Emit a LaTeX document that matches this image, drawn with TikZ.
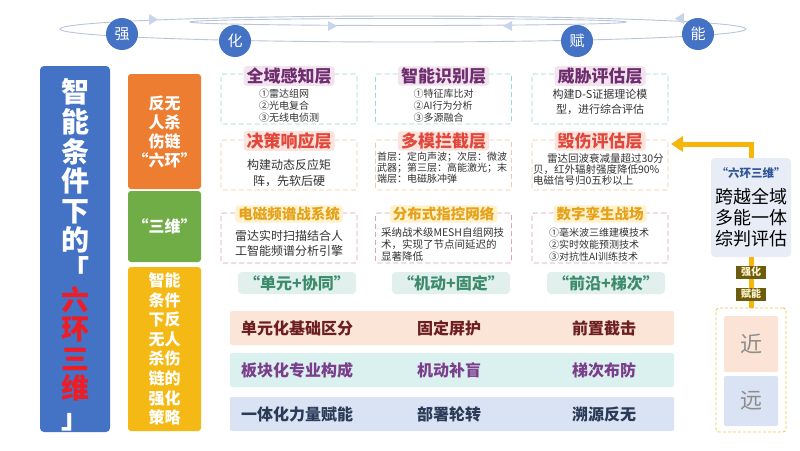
\documentclass[tikz,border=0pt]{standalone}
\usepackage{fontspec}
\setmainfont{Noto Sans CJK SC}
\usetikzlibrary{arrows.meta}
\newcommand\fz[2]{\fontsize{#1pt}{#2pt}\selectfont}
\definecolor{ringblue}{HTML}{4472C4}
\definecolor{ringline}{HTML}{BAC5D8}
\definecolor{ringtri}{HTML}{C8D4EA}
\definecolor{mainblue}{HTML}{4472C4}
\definecolor{titlered}{HTML}{EE1C25}
\definecolor{orangebox}{HTML}{ED7D31}
\definecolor{greenbox}{HTML}{70AD47}
\definecolor{yellowbox}{HTML}{F5B915}
\definecolor{cardAline}{HTML}{9ED5D8}
\definecolor{cardAbg}{HTML}{F3E3EE}
\definecolor{cardAtx}{HTML}{6E2E6E}
\definecolor{cardBline}{HTML}{F2C9A8}
\definecolor{cardBbg}{HTML}{FCE3DE}
\definecolor{cardBtx}{HTML}{E0483C}
\definecolor{cardCline}{HTML}{D9A3B8}
\definecolor{cardCbg}{HTML}{FFF2CC}
\definecolor{cardCtx}{HTML}{E5A11A}
\definecolor{bodytx}{HTML}{333333}
\definecolor{pillbg}{HTML}{E1F0EC}
\definecolor{pilltx}{HTML}{3D8B6D}
\definecolor{bandA}{HTML}{FBE5D6}
\definecolor{bandAtx}{HTML}{6D1F1F}
\definecolor{bandB}{HTML}{DAF1F0}
\definecolor{bandBtx}{HTML}{7A3E8A}
\definecolor{bandC}{HTML}{DAE3F3}
\definecolor{bandCtx}{HTML}{2B3A57}
\definecolor{gold}{HTML}{F5B50A}
\definecolor{goldash}{HTML}{F2C94C}
\definecolor{rbbg}{HTML}{E8ECF6}
\definecolor{rbtitle}{HTML}{2F5597}
\definecolor{tagbg}{HTML}{6E5C0E}
\definecolor{tagtx}{HTML}{FFF5CC}
\definecolor{nearbg}{HTML}{FBE4D6}
\definecolor{farbg}{HTML}{DAE3F3}
\definecolor{neartx}{HTML}{8C8C8C}
\begin{document}
\begin{tikzpicture}[x=1pt,y=-1pt,
  every node/.style={inner sep=0pt, outer sep=0pt},
  dot/.style={circle, fill=ringblue, minimum size=32pt, text=white, font=\fz{15}{15}},
  tri/.style={fill=ringtri},
  ring/.style={draw=ringline, line width=0.9pt},
  stripbox/.style={rounded corners=3pt, minimum width=73pt, text=white, align=center, font=\bfseries\fz{16}{19}},
  cardbox/.style={draw, dash pattern=on 5pt off 3pt, line width=0.9pt, rounded corners=2pt, minimum width=136pt, minimum height=50pt},
  cardtitle/.style={rounded corners=3pt, inner xsep=3pt, inner ysep=1.5pt, font=\bfseries\fz{17}{17}},
  body/.style={text=bodytx},
  pill/.style={fill=pillbg, rounded corners=4pt, minimum width=118pt, minimum height=22pt, text=pilltx, font=\bfseries\fz{16}{16}},
  band/.style={rounded corners=2pt, minimum width=444pt, minimum height=34pt},
  bandtext/.style={anchor=west, font=\bfseries\fz{16}{16}},
  goldline/.style={draw=gold, line width=5pt},
  gtag/.style={fill=tagbg, text=tagtx, minimum width=30pt, minimum height=13pt, font=\bfseries\fz{10}{10}},
  nf/.style={minimum width=54pt, text=neartx, font=\fz{22}{22}}
]
\useasboundingbox (0,0) rectangle (800,450);
\fill[white] (0,0) rectangle (800,450);

% ---- top rings ----
\draw[ring] (403,29) ellipse [x radius=343, y radius=13];
\draw[ring] (408,22) ellipse [x radius=218, y radius=3.5];
\fill[tri] (149,14) -- (158,19.5) -- (149,25) -- cycle;
\fill[tri] (328,21) -- (337,26) -- (328,31) -- cycle;
\fill[tri] (512,21) -- (503,26) -- (512,31) -- cycle;
\fill[tri] (684,13) -- (675,18.5) -- (684,24) -- cycle;
\node[dot] (q) at (122,34) {强};
\node[dot] (h) at (235,41) {化};
\node[dot] (f) at (577,41) {赋};
\node[dot] (n) at (698,34) {能};

% ---- left column ----
\node[fill=mainblue, rounded corners=4pt, minimum width=70pt, minimum height=366pt] (main) at (75,249) {};
\node[text=white, align=center, font=\bfseries\fz{28}{29.6}] (maintx) at (75,255)
  {智\\能\\条\\件\\下\\的\\「\\\textcolor{titlered}{六}\\\textcolor{titlered}{环}\\\textcolor{titlered}{三}\\\textcolor{titlered}{维}\\」};

\node[stripbox, fill=orangebox, minimum height=115pt] (ob) at (164.5,131.5) {反无\\人杀\\伤链\\“六环”};
\node[stripbox, fill=greenbox, minimum height=71pt] (gb) at (164.5,226.5) {“三维”};
\node[stripbox, fill=yellowbox, minimum height=164pt, font=\bfseries\fz{16}{19.6}] (yb) at (164.5,349) {智能\\条件\\下反\\无人\\杀伤\\链的\\强化\\策略};

% ---- cards row 1 ----
\node[cardbox, draw=cardAline] (a1) at (289,99) {};
\node[cardbox, draw=cardAline] (a2) at (443.5,99) {};
\node[cardbox, draw=cardAline] (a3) at (600,99) {};
\node[cardtitle, fill=cardAbg, text=cardAtx] (a1t) at (289,76) {全域感知层};
\node[cardtitle, fill=cardAbg, text=cardAtx] (a2t) at (443.5,76) {智能识别层};
\node[cardtitle, fill=cardAbg, text=cardAtx] (a3t) at (600,76) {威胁评估层};
\node[body, align=left, font=\fz{10}{12}] (a1b) at (289,106) {①雷达组网\\②光电复合\\③无线电侦测};
\node[body, align=left, font=\fz{10}{12}] (a2b) at (443.5,106) {①特征库比对\\②AI行为分析\\③多源融合};
\node[body, align=center, font=\fz{11}{15}] (a3b) at (600,102) {构建D-S证据理论模\\型，进行综合评估};

% ---- cards row 2 ----
\node[cardbox, draw=cardBline] (b1) at (289,165) {};
\node[cardbox, draw=cardBline] (b2) at (443.5,165) {};
\node[cardbox, draw=cardBline] (b3) at (600,165) {};
\node[cardtitle, fill=cardBbg, text=cardBtx] (b1t) at (289,141) {决策响应层};
\node[cardtitle, fill=cardBbg, text=cardBtx] (b2t) at (443.5,141) {多模拦截层};
\node[cardtitle, fill=cardBbg, text=cardBtx] (b3t) at (600,141) {毁伤评估层};
\node[body, align=center, font=\fz{12}{16}] (b1b) at (289,173.5) {构建动态反应矩\\阵，先软后硬};
\node[body, align=left, font=\fz{10}{11}, anchor=west] (b2b) at (377,168) {首层：定向声波；次层：微波\\武器；第三层：高能激光；末\\端层：电磁脉冲弹};
\node[body, align=left, font=\fz{10.5}{11}, anchor=west] (b3b) at (533,170) {\hspace{14pt}雷达回波衰减量超过30分\\贝，红外辐射强度降低90\%\\电磁信号归0五秒以上};

% ---- cards row 3 ----
\node[cardbox, draw=cardCline] (c1) at (289,238) {};
\node[cardbox, draw=cardCline] (c2) at (443.5,238) {};
\node[cardbox, draw=cardCline] (c3) at (600,238) {};
\node[cardtitle, fill=cardCbg, text=cardCtx, font=\bfseries\fz{14.5}{14.5}] (c1t) at (289,214) {电磁频谱战系统};
\node[cardtitle, fill=cardCbg, text=cardCtx, font=\bfseries\fz{14.5}{14.5}] (c2t) at (443.5,214) {分布式指控网络};
\node[cardtitle, fill=cardCbg, text=cardCtx, font=\bfseries\fz{14.5}{14.5}] (c3t) at (600,214) {数字孪生战场};
\node[body, align=center, font=\fz{12}{15}] (c1b) at (289,243) {雷达实时扫描结合人\\工智能频谱分析引擎};
\node[body, align=left, font=\fz{10.5}{12}, anchor=west] (c2b) at (381,244.5) {采纳战术级MESH自组网技\\术，实现了节点间延迟的\\显著降低};
\node[body, align=left, font=\fz{10}{12}] (c3b) at (599,244.5) {①毫米波三维建模技术\\②实时效能预测技术\\③对抗性AI训练技术};

% ---- pills ----
\node[pill] (p1) at (297,283) {“单元+协同”};
\node[pill] (p2) at (451,283) {“机动+固定”};
\node[pill] (p3) at (606,283) {“前沿+梯次”};

% ---- bands ----
\node[band, fill=bandA] (r1) at (452,328) {};
\node[band, fill=bandB] (r2) at (452,370) {};
\node[band, fill=bandC] (r3) at (452,414) {};
\node[bandtext, text=bandAtx] (r1a) at (241,328) {单元化基础区分};
\node[bandtext, text=bandAtx] (r1b) at (417,328) {固定屏护};
\node[bandtext, text=bandAtx] (r1c) at (572,328) {前置截击};
\node[bandtext, text=bandBtx] (r2a) at (241,370) {板块化专业构成};
\node[bandtext, text=bandBtx] (r2b) at (417,370) {机动补盲};
\node[bandtext, text=bandBtx] (r2c) at (572,370) {梯次布防};
\node[bandtext, text=bandCtx] (r3a) at (241,414) {一体化力量赋能};
\node[bandtext, text=bandCtx] (r3b) at (417,414) {部署轮转};
\node[bandtext, text=bandCtx] (r3c) at (572,414) {溯源反无};

% ---- right panel ----
\node[fill=rbbg, rounded corners=4pt, minimum width=80pt, minimum height=99pt] (rb) at (751,207.5) {};
\node[text=rbtitle, font=\bfseries\fz{11.5}{11.5}] (rbt) at (751,173) {“六环三维”};
\node[align=center, text=black, font=\fz{18}{21}] (rbb) at (751,218) {跨越全域\\多能一体\\综判评估};
\coordinate (tip) at (671,144);
\draw[goldline, line join=miter, -{Triangle[length=12pt,width=15pt]}] (rb.north) |- (tip);

\node[draw=goldash, dash pattern=on 3pt off 2pt, line width=0.9pt, rounded corners=3pt, minimum width=70pt, minimum height=124pt] (db) at (751,370) {};
\draw[goldline] (rb.south) -- (db.north);
\node[gtag] (t1) at (751,272) {强化};
\node[gtag] (t2) at (751,294) {赋能};
\node[nf, fill=nearbg, rounded corners=2pt, minimum height=56pt] (near) at (751,344) {近};
\node[nf, fill=farbg, rounded corners=2pt, minimum height=50pt] (far) at (751,401) {远};
\end{tikzpicture}
\end{document}
